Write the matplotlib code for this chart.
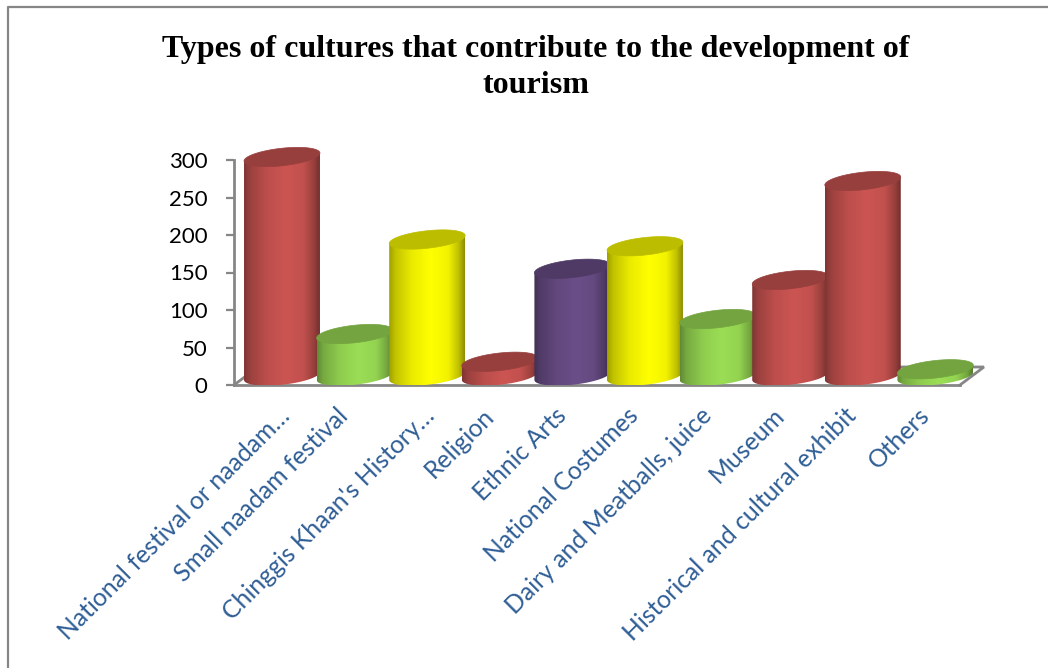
import numpy as np
import matplotlib
matplotlib.use("Agg")
import matplotlib.pyplot as plt
from matplotlib.lines import Line2D
from matplotlib.patches import Polygon

categories = ["National festival or naadam…", "Small naadam festival",
              "Chinggis Khaan's History…", "Religion", "Ethnic Arts",
              "National Costumes", "Dairy and Meatballs, juice", "Museum",
              "Historical and cultural exhibit", "Others"]
values = [292, 56, 182, 19, 143, 173, 76, 128, 260, 9]
bar_colors = ["#CC5552", "#9BDE55", "#FFFF00", "#CC5552", "#6A4E88",
              "#FFFF00", "#9BDE55", "#CC5552", "#CC5552", "#9BDE55"]
y_ticks = [0, 50, 100, 150, 200, 250, 300]

# cylinder shape, in data units
half_w = 0.523
depth = 12      # base centre sits this far up the floor
minor = 11.7    # half height of the end ellipses
tilt = 5.3      # right end of an ellipse sits higher than the left

grey = "#868686"

# shading across a cylinder, dark edges and a highlight a bit right of centre
shade_pos = [0, 0.08, 0.30, 0.55, 0.78, 0.92, 1]
shade_val = [0.62, 0.76, 0.92, 1.0, 0.95, 0.75, 0.55]

fig = plt.figure(figsize=(10.48, 6.68), dpi=100, facecolor="white")
ax = fig.add_axes([234 / 1048, 283 / 668, 726 / 1048, 225 / 668])
ax.patch.set_visible(False)

# outer chart border, only top and left show
fig.add_artist(Line2D([8 / 1048, 8 / 1048, 1], [0, 661 / 668, 661 / 668],
                      color=grey, lw=1.6))

fig.text(536 / 1048, 1 - 67.5 / 668,
         "Types of cultures that contribute to the development of\ntourism",
         family="Liberation Serif", weight="bold", fontsize=23.0,
         ha="center", va="center", linespacing=1.36)

xlim = (-0.661, 9.339)
ylim = (0, 300)

# floor outline behind the bars
floor_x = [xlim[0], xlim[0] + 0.33, xlim[1] + 0.33, xlim[1]]
floor_y = [0, 24, 24, 0]
ax.plot(floor_x, floor_y, color=grey, lw=2, clip_on=False, zorder=1,
        solid_joinstyle="miter")

t = np.linspace(0, 2 * np.pi, 121)
low = np.linspace(np.pi, 2 * np.pi, 61)
shade_x = np.linspace(0, 1, 256)

for i, (val, col) in enumerate(zip(values, bar_colors)):
    rgb = np.array(matplotlib.colors.to_rgb(col))
    z = 3 + i
    y_top = val + depth

    # side of the cylinder
    bx = i + half_w * np.cos(low)
    by = depth + minor * np.sin(low) + tilt * np.cos(low)
    outline = np.column_stack([
        np.r_[i - half_w, bx, i + half_w],
        np.r_[y_top - tilt, by, y_top + tilt],
    ])
    body = Polygon(outline, closed=True, fc="none", ec="none",
                   transform=ax.transData)
    ax.add_patch(body)
    grad = np.interp(shade_x, shade_pos, shade_val)[None, :, None] * rgb
    im = ax.imshow(grad, extent=(i - half_w, i + half_w, 0, y_top + 20),
                   aspect="auto", interpolation="bilinear", zorder=z)
    im.set_clip_path(body)
    im.set_clip_box(fig.bbox)

    # lid, darker than the side
    ax.fill(i + half_w * np.cos(t),
            y_top + minor * np.sin(t) + tilt * np.cos(t),
            color=rgb * 0.74, lw=0.5, clip_on=False, zorder=z + 0.5)

ax.set_xlim(xlim)
ax.set_ylim(ylim)

ax.set_yticks(y_ticks)
ax.set_xticks(range(len(categories)))
ax.set_xticklabels([])
ax.tick_params(axis="x", length=0)
ax.tick_params(axis="y", length=6, width=1.6, color=grey, pad=13,
               labelsize=16)
for lab in ax.get_yticklabels():
    lab.set_family("Lato")

# slanted category names; the cut-off ones hang further right
for i, name in enumerate(categories):
    dx = -3 if name.endswith("…") else -13
    ax.annotate(name, xy=(i, 0), xycoords=("data", "axes fraction"),
                xytext=(dx, -13.5), textcoords="offset points",
                rotation=45, rotation_mode="anchor", ha="right", va="top",
                family="Lato", fontsize=17.8, color="#2F5E96",
                annotation_clip=False)

for side in ["top", "right"]:
    ax.spines[side].set_visible(False)
for side in ["left", "bottom"]:
    ax.spines[side].set_color(grey)
    ax.spines[side].set_linewidth(2)
    ax.spines[side].set_zorder(2)

fig.savefig("out.png", dpi=100)
